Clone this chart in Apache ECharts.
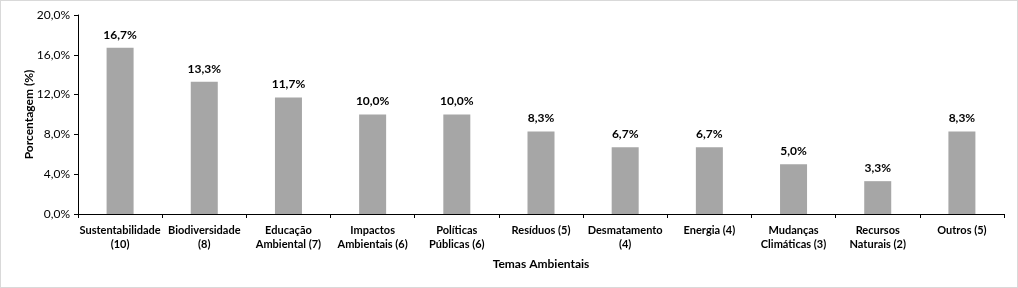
<!DOCTYPE html>
<html>
<head>
<meta charset="utf-8">
<script src="https://cdn.jsdelivr.net/npm/echarts@6/dist/echarts.min.js"></script>
<style>
  html, body { margin: 0; padding: 0; background: #fff; }
  #chart { width: 1018px; height: 288px; box-sizing: border-box; border: 1px solid #d9d9d9; }
</style>
</head>
<body>
<div id="chart"></div>
<script>
// categorias e percentuais
const categories = [
  'Sustentabilidade\n(10)', 'Biodiversidade\n(8)', 'Educação\nAmbiental (7)',
  'Impactos\nAmbientais (6)', 'Políticas\nPúblicas (6)', 'Resíduos (5)',
  'Desmatamento\n(4)', 'Energia (4)', 'Mudanças\nClimáticas (3)',
  'Recursos\nNaturais (2)', 'Outros (5)'
]
const percentages = [16.7, 13.3, 11.7, 10.0, 10.0, 8.3, 6.7, 6.7, 5.0, 3.3, 8.3]
const yTicks = { min: 0, max: 20, interval: 4 }

const font = 'Lato, "Open Sans", sans-serif'
const fmt = (v, d) => v.toFixed(d).replace('.', ',') + '%'

const chart = echarts.init(document.getElementById('chart'))
chart.setOption({
  animation: false,
  textStyle: { fontFamily: font },
  grid: { left: 77, right: 13, top: 14, bottom: 73 },
  xAxis: {
    type: 'category',
    data: categories,
    name: 'Temas Ambientais',
    nameLocation: 'middle',
    nameGap: 44,
    nameMoveOverlap: false,
    nameTextStyle: { color: '#000', fontWeight: 'bold', fontSize: 12, fontFamily: font },
    axisLine: { lineStyle: { color: '#000', width: 1 } },
    axisTick: { show: true, length: 4, lineStyle: { color: '#000' } },
    axisLabel: { color: '#000', fontWeight: 'bold', fontSize: 11, interval: 0, margin: 9, lineHeight: 14, fontFamily: font },
  },
  yAxis: {
    type: 'value',
    min: yTicks.min,
    max: yTicks.max,
    interval: yTicks.interval,
    name: 'Porcentagem (%)',
    nameLocation: 'middle',
    nameGap: 43,
    nameMoveOverlap: false,
    nameRotate: 90,
    nameTextStyle: { color: '#000', fontWeight: 'bold', fontSize: 12, fontFamily: font },
    axisLine: { show: true, lineStyle: { color: '#000', width: 1 } },
    axisTick: { show: true, length: 4, lineStyle: { color: '#000' } },
    splitLine: { show: false },
    axisLabel: { color: '#000', fontSize: 12, margin: 8, fontFamily: font, formatter: v => fmt(v, 1) },
  },
  series: [{
    type: 'bar',
    data: percentages,
    barWidth: 27,
    itemStyle: { color: '#a6a6a6' },
    label: {
      show: true,
      position: 'top',
      distance: 7,
      color: '#000',
      fontWeight: 'bold',
      fontSize: 12,
      fontFamily: font,
      formatter: p => fmt(p.value, 1),
    },
  }],
})
</script>
</body>
</html>
